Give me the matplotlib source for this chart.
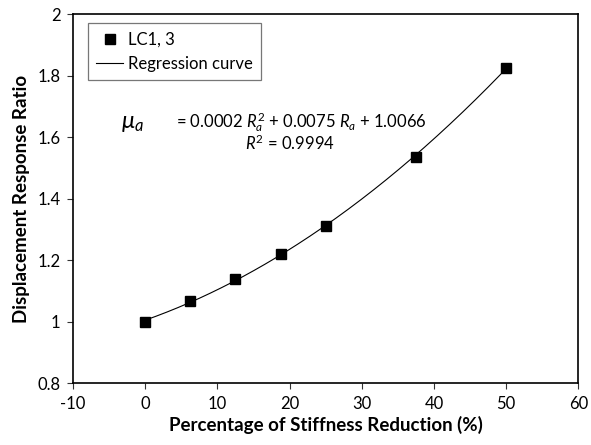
import numpy as np
import matplotlib

matplotlib.use('Agg')
import matplotlib.pyplot as plt

# Data
stiffness_reduction = [0, 6.25, 12.5, 18.75, 25, 37.5, 50]
response_ratio = [1.0, 1.066, 1.137, 1.219, 1.312, 1.535, 1.826]
x_ticks = [-10, 0, 10, 20, 30, 40, 50, 60]
y_ticks = [0.8, 1.0, 1.2, 1.4, 1.6, 1.8, 2.0]
y_tick_labels = ['0.8', '1', '1.2', '1.4', '1.6', '1.8', '2']

plt.rcParams['font.family'] = ['Lato', 'DejaVu Sans']
plt.rcParams['mathtext.fontset'] = 'custom'
plt.rcParams['mathtext.rm'] = 'Lato'
plt.rcParams['mathtext.it'] = 'Lato:italic'
plt.rcParams['axes.unicode_minus'] = False

fig = plt.figure(figsize=(5.91, 4.45), dpi=100)
ax = fig.add_axes([0.1235, 0.139, 0.855, 0.8295])

# quadratic regression through the points
coef = np.polyfit(stiffness_reduction, response_ratio, 2)
xs = np.linspace(min(stiffness_reduction), max(stiffness_reduction), 200)
ax.plot(xs, np.polyval(coef, xs), color='black', linewidth=0.8, label='Regression curve', zorder=2)
ax.plot(stiffness_reduction, response_ratio, 's', color='black', markersize=7,
        linestyle='none', label='LC1, 3', zorder=3)

ax.set_xlim(-10, 60)
ax.set_ylim(0.8, 2.0)
ax.set_xticks(x_ticks)
ax.set_yticks(y_ticks)
ax.set_yticklabels(y_tick_labels)
ax.tick_params(direction='out', length=4, width=0.8, labelsize=12, colors='#333333',
               labelcolor='black', pad=5)
for s in ax.spines.values():
    s.set_linewidth(1.2)

ax.set_xlabel('Percentage of Stiffness Reduction (%)', fontsize=13.5, fontweight='bold', labelpad=3)
ax.set_ylabel('Displacement Response Ratio', fontsize=13.5, fontweight='bold', labelpad=5)

handles, labels = ax.get_legend_handles_labels()
leg = ax.legend(handles[::-1], labels[::-1], loc='upper left', bbox_to_anchor=(0.03, 0.975),
                fontsize=12, frameon=True, fancybox=False, edgecolor='#555555',
                handlelength=1.6, handletextpad=0.3, borderpad=0.5, labelspacing=0.5,
                borderaxespad=0)
leg.get_frame().set_linewidth(0.9)

fig.text(121 / 591, 1 - 123 / 445, r'$\mu_a$', fontsize=17, va='center', ha='left',
         family='DejaVu Serif', style='italic')
fig.text(176 / 591, 1 - 122 / 445,
         r'= 0.0002 $R_a^2$ + 0.0075 $R_a$ + 1.0066', fontsize=12, va='center', ha='left')
fig.text(245 / 591, 1 - 143 / 445, r'$R^2$ = 0.9994', fontsize=12, va='center', ha='left')

fig.savefig('out.png', dpi=100)
